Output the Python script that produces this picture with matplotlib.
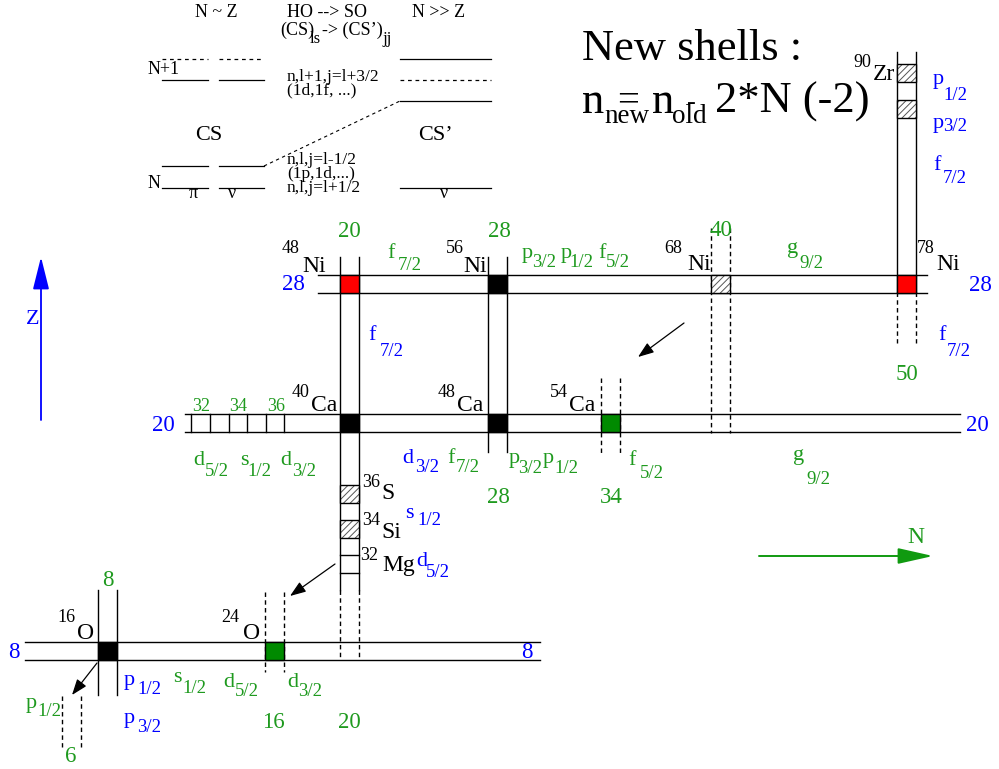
import matplotlib
matplotlib.use("Agg")
import matplotlib.pyplot as plt
from matplotlib.patches import Rectangle

plt.rcParams['font.family'] = ['Liberation Serif', 'DejaVu Serif']
plt.rcParams['hatch.linewidth'] = 0.7

BLUE = '#0000ff'
GREEN = '#1f9a1f'
FILL_GREEN = '#008a00'
RED = '#ff0000'

# ---------------- data ----------------
# proton and neutron shell closures shown as bands
z_magic = [8, 20, 28]
n_magic = [6, 8, 16, 20, 28, 34, 40, 50]

# filled crossings of the bands: N, Z, kind
cross_N = [8, 16, 20, 28, 34, 20, 28, 40, 50]
cross_Z = [8, 8, 20, 20, 20, 28, 28, 28, 28]
cross_kind = ['closed', 'new', 'closed', 'closed', 'new',
              'predicted', 'closed', 'weak', 'predicted']

# sub-shell closures inside a neutron column: N, Z, kind
sub_N = [20, 20, 20, 50, 50]
sub_Z = [16, 14, 12, 40, 38]
sub_kind = ['weak', 'weak', 'lines', 'weak', 'weak']

# labelled nuclei
nuc_A = [16, 24, 40, 48, 54, 48, 56, 68, 78, 90, 36, 34, 32]
nuc_sym = ['O', 'O', 'Ca', 'Ca', 'Ca', 'Ni', 'Ni', 'Ni', 'Ni', 'Zr', 'S', 'Si', 'Mg']

# neutron numbers marked on the Z=20 band (left end)
n_tick_labels = ['32', '34', '36']

# orbitals: letter, j, proton (blue) or neutron (green)
orb_letter = ['f', 'p', 'p', 'f', 'g',            # above Z=28
              'f', 'p', 'p', 'f', 'f',            # proton side, N=20 and N=50 columns
              'd', 's', 'd', 'd', 'f', 'p', 'p', 'f', 'g',   # below Z=20
              'p', 's', 'd', 'd', 'p', 'p',       # below Z=8
              's', 'd']                           # proton orbitals beside N=20 column
orb_j = ['7/2', '3/2', '1/2', '5/2', '9/2',
         '7/2', '1/2', '3/2', '7/2', '7/2',
         '5/2', '1/2', '3/2', '3/2', '7/2', '3/2', '1/2', '5/2', '9/2',
         '1/2', '1/2', '5/2', '3/2', '3/2', '1/2',
         '1/2', '5/2']
orb_proton = [False, False, False, False, False,
              True, True, True, True, True,
              False, False, False, True, False, False, False, False, False,
              True, False, False, False, True, False,
              True, True]

# ---------------- layout (pixels) ----------------
W = 18.5      # width of a neutron column
H = 17.5      # height of a proton band
z_top = {8: 642, 20: 414, 28: 275}
z_span = {8: (25, 540), 20: (185, 960), 28: (318, 927)}
z_lab_left = {8: (8, 658), 20: (152, 431), 28: (282, 290)}
z_lab_right = {8: (521, 658), 20: (966, 431), 28: (969, 291)}

n_left = {6: 62, 8: 98, 16: 265, 20: 340, 28: 488, 34: 601, 40: 711, 50: 897}
n_segments = {6: [(696, 747, 'dash')], 8: [(590, 695, 'solid')],
              16: [(592, 672, 'dash')],
              20: [(257, 590, 'solid'), (590, 658, 'dash')],
              28: [(257, 452, 'solid')], 34: [(378, 455, 'dash')],
              40: [(228, 433, 'dash')],
              50: [(52, 292, 'solid'), (292, 343, 'dash')]}
# where each neutron number is written (may appear twice)
n_lab_pos = {6: [(65, 762)], 8: [(102, 586)], 16: [(262, 728)],
             20: [(338, 237), (338, 728)], 28: [(488, 237), (487, 503)],
             34: [(600, 503)], 40: [(709, 236)], 50: [(896, 380)]}
sub_y = {(20, 16): 485, (20, 14): 520, (20, 12): 555, (50, 40): 64, (50, 38): 100}

tick_x = [191, 210, 229, 247, 266, 284]
tick_lab_x = [192, 229, 267]

nuc_pos = [(57, 622, 77, 639), (221, 622, 243, 639),
           (292, 397, 311, 411), (438, 397, 457, 411), (550, 397, 569, 411),
           (282, 253, 302, 272), (446, 253, 463, 272), (664, 253, 687, 270),
           (917, 253, 936, 270), (853, 67, 873, 80),
           (362, 487, 381, 499), (362, 525, 381, 538), (360, 560, 382, 571)]

orb_pos = [(387, 258, 398, 270), (522, 258, 532, 267), (561, 258, 569, 267),
           (598, 258, 606, 267), (787, 253, 799, 268),
           (368, 340, 380, 356), (933, 84, 943, 100), (933, 128, 943, 131),
           (933, 170, 943, 183), (938, 340, 947, 356),
           (193, 465, 205, 476), (240, 465, 247, 476), (280, 465, 292, 476),
           (402, 463, 415, 472), (447, 463, 456, 472), (509, 463, 518, 473),
           (543, 463, 554, 473), (628, 465, 640, 478), (793, 460, 806, 484),
           (124, 685, 137, 694), (173, 682, 182, 693), (223, 687, 235, 696),
           (287, 687, 298, 696), (124, 723, 137, 732), (26, 708, 37, 716),
           (405, 518, 417, 525), (416, 566, 426, 577)]

fig = plt.figure(figsize=(9.99, 7.69), dpi=100)
ax = fig.add_axes([0, 0, 1, 1])
ax.set_xlim(0, 999)
ax.set_ylim(769, 0)
ax.axis('off')

LW = 1.0
DASH = (0, (3.2, 2.4))

SYM = 17      # element symbols
MASS = 13     # mass numbers
MAGIC = 16.5  # shell numbers
ORB = 16      # orbital letter
ORBJ = 13.5   # orbital j
SCH = 12.5    # schematic text


def txt(x, y, s, size, color='black', **kw):
    ax.text(x, y, s, fontsize=size, color=color, ha='left', va='baseline', **kw)


def hatched(x, y, w, h):
    ax.add_patch(Rectangle((x, y), w, h, facecolor='white', edgecolor='#555555',
                           hatch='/////', lw=0, zorder=3))
    ax.add_patch(Rectangle((x, y), w, h, fill=False, edgecolor='black', lw=LW, zorder=4))


# proton bands
for z in z_magic:
    x0, x1 = z_span[z]
    for y in (z_top[z], z_top[z] + H):
        ax.plot([x0, x1], [y, y], color='black', lw=LW, zorder=2)
    txt(*z_lab_left[z], str(z), MAGIC, BLUE)
    txt(*z_lab_right[z], str(z), MAGIC, BLUE)

# neutron columns
for n in n_magic:
    xl = n_left[n]
    for y0, y1, st in n_segments[n]:
        ls = DASH if st == 'dash' else '-'
        for x in (xl, xl + W):
            ax.plot([x, x], [y0, y1], color='black', lw=LW, ls=ls, zorder=2)
    for (lx, ly) in n_lab_pos[n]:
        txt(lx, ly, str(n), MAGIC, GREEN)

# crossings
fills = {'closed': 'black', 'new': FILL_GREEN, 'predicted': RED}
for n, z, kind in zip(cross_N, cross_Z, cross_kind):
    x, y = n_left[n], z_top[z]
    if kind == 'weak':
        hatched(x, y, W, H)
    else:
        ax.add_patch(Rectangle((x, y), W, H, facecolor=fills[kind],
                               edgecolor='black', lw=LW, zorder=4))

# sub-shell closures inside columns
for n, z, kind in zip(sub_N, sub_Z, sub_kind):
    x, y = n_left[n], sub_y[(n, z)]
    if kind == 'weak':
        hatched(x, y, W, H)
    else:
        for yy in (y, y + H):
            ax.plot([x, x + W], [yy, yy], color='black', lw=LW, zorder=3)

# neutron ticks on the Z=20 band
for x in tick_x:
    ax.plot([x, x], [z_top[20], z_top[20] + H], color='black', lw=LW, zorder=3)
for x, s in zip(tick_lab_x, n_tick_labels):
    txt(x, 411, s, 13, GREEN)

# nuclei
for A, sym, (ax_, ay, sx, sy) in zip(nuc_A, nuc_sym, nuc_pos):
    txt(ax_, ay, str(A), MASS)
    txt(sx, sy, sym, SYM)

# orbitals
for let, j, prot, (lx, ly, jx, jy) in zip(orb_letter, orb_j, orb_proton, orb_pos):
    c = BLUE if prot else GREEN
    txt(lx, ly, let, ORB, c)
    txt(jx, jy, j, ORBJ, c)

# migration arrows
for (x0, y0), (x1, y1) in [((684, 323), (638, 357)), ((335, 564), (290, 596)),
                           ((97, 663), (72, 695))]:
    ax.annotate('', xy=(x1, y1), xytext=(x0, y0),
                arrowprops=dict(arrowstyle='-|>,head_length=0.6,head_width=0.22',
                                mutation_scale=16, color='black', lw=0.9,
                                shrinkA=0, shrinkB=0))

# axis arrows
ax.annotate('', xy=(41, 257), xytext=(41, 420),
            arrowprops=dict(arrowstyle='-|>,head_length=0.8,head_width=0.2',
                            mutation_scale=25, color=BLUE, lw=1.3,
                            shrinkA=0, shrinkB=0))
txt(26, 324, 'Z', 16, BLUE)
ax.annotate('', xy=(933, 556), xytext=(759, 556),
            arrowprops=dict(arrowstyle='-|>,head_length=0.8,head_width=0.18',
                            mutation_scale=27, color='#109a10', lw=1.4,
                            shrinkA=0, shrinkB=0))
txt(907, 543, 'N', 17, GREEN)

# formula for the new shells
txt(582, 60, 'New shells :', 32)
txt(582, 113, 'n', 32)
txt(604, 123, 'new', 19.5)
ax.text(617, 102, '=', fontsize=28, ha='left', va='center')
txt(652, 113, 'n', 32)
txt(672, 123, 'old', 19.5)
ax.text(687, 103, '-', fontsize=19, ha='left', va='center')
txt(715, 113, '2*N (-2)', 32)

# schematic of the single-particle levels (top left)
txt(195, 17, 'N ~ Z', 13)
txt(287, 17, 'HO --> SO', 13)
txt(412, 17, 'N >> Z', 13)
txt(280, 35, '(CS)', 13)
txt(310, 43, 'ls', 12)
txt(322, 35, '-> (CS\u2019)', 13)
txt(382, 43, 'jj', 12)

for xs in [(162, 208), (219, 264)]:
    ax.plot(xs, [59, 59], color='black', lw=0.9, ls=(0, (3, 3)))
    for y in (80, 166, 188):
        ax.plot(xs, [y, y], color='black', lw=0.9)
ax.plot([400, 491], [59, 59], color='black', lw=0.9)
ax.plot([400, 491], [80, 80], color='black', lw=0.9, ls=(0, (3, 3)))
ax.plot([400, 491], [101, 101], color='black', lw=0.9)
ax.plot([400, 491], [188, 188], color='black', lw=0.9)
ax.plot([264, 400], [166, 101], color='black', lw=0.8, ls=(0, (3, 3)))

txt(148, 74, 'N+1', 13)
txt(287, 81, 'n,l+1,j=l+3/2', SCH)
txt(287, 94, '(1d,1f, ...)', SCH)
txt(195, 140, 'CS', 16)
txt(418, 140, 'CS\u2019', 16)
txt(287, 164, 'n,l,j=l-1/2', SCH)
txt(287, 178, '(1p,1d,...)', SCH)
txt(287, 192, 'n,l,j=l+1/2', SCH)
txt(148, 188, 'N', 13)
txt(189, 198, '\u03c0', 13)
txt(228, 198, '\u03bd', 13)
txt(440, 198, '\u03bd', 13)

fig.savefig('out.png', dpi=100)
